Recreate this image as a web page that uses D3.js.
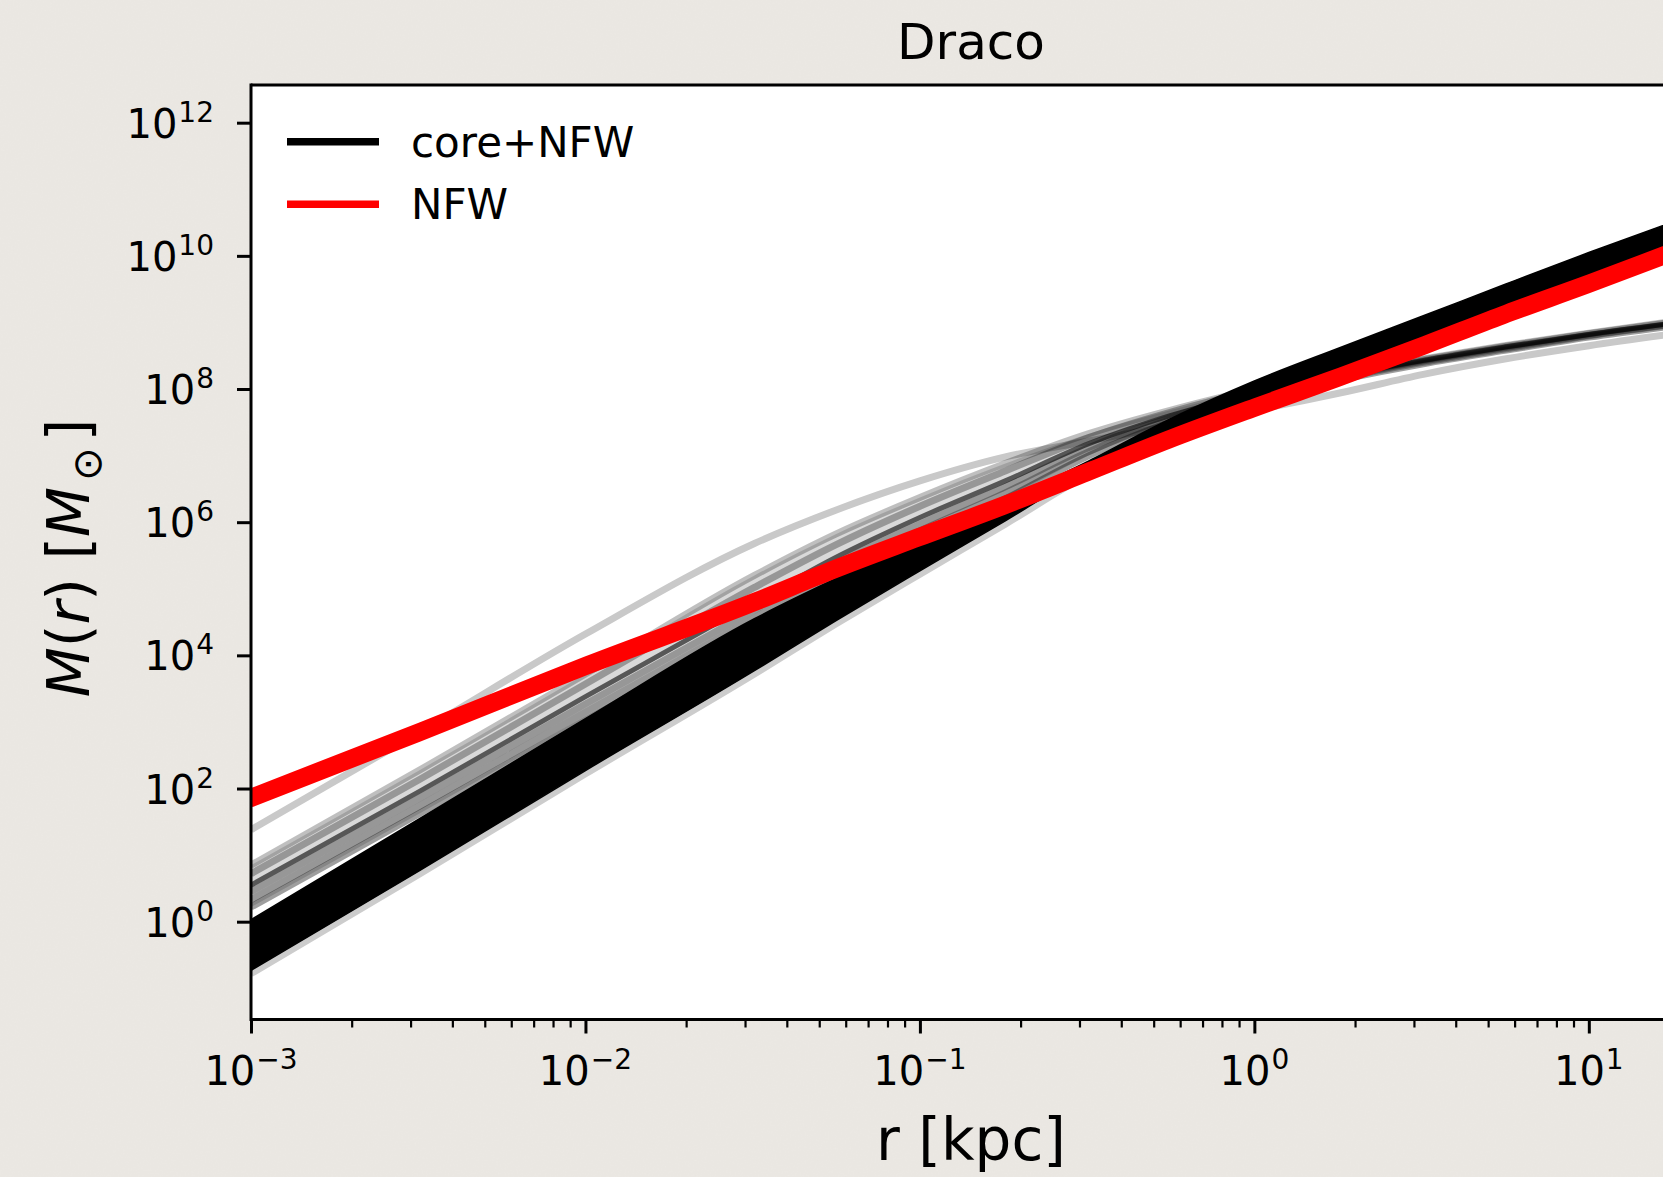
<!DOCTYPE html>
<html><head><meta charset="utf-8">
<script src="https://cdn.jsdelivr.net/npm/d3@7"></script>
<style>
html,body{margin:0;padding:0;background:#ebe8e2;}
svg{display:block;}
text{font-family:"DejaVu Sans",sans-serif;fill:#000;}
</style></head><body>
<svg id="chart" width="1663" height="1177"></svg>
<script>
// ---------- data ----------
const radiusKpc = [0.001, 0.0032, 0.01, 0.032, 0.056, 0.1, 0.18, 0.32, 0.56, 1, 1.8, 3.2, 5.6, 10, 20];

// core+NFW: main (dense) band, log10 M edges
const coreBandUpper  = [0.03, 1.55, 3.05, 4.55, 5.15, 5.72, 6.32, 6.92, 7.55, 8.12, 8.62, 9.10, 9.57, 10.05, 10.60];
const coreBandLower  = [-0.73, 0.77, 2.27, 3.77, 4.52, 5.27, 6.02, 6.77, 7.33, 7.80, 8.28, 8.75, 9.21, 9.67, 10.22];
const coreBandFringe = [-0.78, 0.72, 2.22, 3.72, 4.47, 5.22, 5.97, 6.72, 7.28, 7.75, 8.23, 8.70, 9.16, 9.62, 10.17];

// core+NFW: flattening realisations (grey bundle -> thin dark band)
const coreBundle1 = [0.85, 2.28, 3.72, 5.20, 5.82, 6.37, 6.88, 7.33, 7.68, 7.99, 8.22, 8.45, 8.65, 8.84, 9.05];
const coreBundle2 = [0.72, 2.14, 3.57, 5.02, 5.66, 6.24, 6.77, 7.27, 7.65, 7.97, 8.21, 8.44, 8.64, 8.83, 9.04];
const coreBundle3 = [0.55, 1.96, 3.38, 4.80, 5.47, 6.07, 6.62, 7.18, 7.60, 7.94, 8.19, 8.43, 8.63, 8.82, 9.02];
const coreBundle4 = [0.45, 1.86, 3.27, 4.68, 5.37, 5.97, 6.53, 7.12, 7.57, 7.92, 8.18, 8.42, 8.62, 8.81, 9.01];
const coreBundle5 = [0.33, 1.74, 3.15, 4.56, 5.25, 5.87, 6.44, 7.06, 7.54, 7.89, 8.16, 8.40, 8.60, 8.80, 9.00];
const coreBundle6 = [0.22, 1.63, 3.03, 4.44, 5.13, 5.76, 6.35, 7.00, 7.50, 7.86, 8.14, 8.38, 8.58, 8.78, 8.98];

// core+NFW: single early-turnover realisation (light grey)
const coreOutlier = [1.38, 2.85, 4.32, 5.68, 6.18, 6.62, 6.98, 7.22, 7.45, 7.68, 7.94, 8.22, 8.45, 8.65, 8.86];

// NFW band (red)
const nfwUpper = [1.95, 2.94, 3.93, 4.89, 5.39, 5.87, 6.35, 6.85, 7.34, 7.81, 8.27, 8.74, 9.21, 9.67, 10.24];
const nfwMid   = [1.86, 2.85, 3.84, 4.80, 5.30, 5.78, 6.26, 6.76, 7.25, 7.72, 8.18, 8.65, 9.12, 9.58, 10.15];
const nfwLower = [1.77, 2.76, 3.75, 4.71, 5.21, 5.69, 6.17, 6.67, 7.16, 7.63, 8.09, 8.56, 9.03, 9.49, 10.06];

// ticks / labels
const xMajorExp = [-3, -2, -1, 0, 1];
const yMajorExp = [0, 2, 4, 6, 8, 10, 12];
const legendLabels = ["core+NFW", "NFW"];
const legendColors = ["#000000", "#ff0000"];
const titleText = "Draco";
const xLabelText = "r [kpc]";

// ---------- layout ----------
const L = 251, R = 1689.5, T = 85, B = 1019.5;
const x = d3.scaleLog().domain([1e-3, 20]).range([L, R]);
const y = d3.scaleLog().domain([Math.pow(10, -1.469), Math.pow(10, 12.566)]).range([B, T]);

const svg = d3.select("#chart");

// paper background with subtle texture
const defs = svg.append("defs");
const f = defs.append("filter").attr("id", "paper").attr("x", 0).attr("y", 0).attr("width", "100%").attr("height", "100%");
f.append("feTurbulence").attr("type", "fractalNoise").attr("baseFrequency", 0.6).attr("numOctaves", 3).attr("seed", 4).attr("result", "n");
f.append("feColorMatrix").attr("in", "n").attr("type", "matrix")
  .attr("values", "0 0 0 0 0.5  0 0 0 0 0.48  0 0 0 0 0.45  0 0 0 0.10 0");
f.append("feComposite").attr("in2", "SourceGraphic").attr("operator", "over");
svg.append("rect").attr("width", 1663).attr("height", 1177).attr("fill", "#ece9e4");
svg.append("rect").attr("width", 1663).attr("height", 1177).attr("fill", "#ece9e4").attr("filter", "url(#paper)").attr("opacity", 0.6);

defs.append("clipPath").attr("id", "plotclip").append("rect")
  .attr("x", L).attr("y", T).attr("width", R - L).attr("height", B - T);

svg.append("rect").attr("x", L).attr("y", T).attr("width", R - L).attr("height", B - T).attr("fill", "#ffffff");

const plot = svg.append("g").attr("clip-path", "url(#plotclip)");

const pts = arr => arr.map((v, i) => [x(radiusKpc[i]), y(Math.pow(10, v))]);
const line = d3.line().curve(d3.curveMonotoneX);
const LW = 7;
const bandArea = (lo, hi) => d3.area().curve(d3.curveMonotoneX)
  .x((d, i) => x(radiusKpc[i]))
  .y0((d, i) => y(Math.pow(10, lo[i])))
  .y1((d, i) => y(Math.pow(10, hi[i])))(radiusKpc);

// outlier
plot.append("path").attr("d", line(pts(coreOutlier))).attr("fill", "none")
  .attr("stroke", "#c9c9c9").attr("stroke-width", LW);

// bundle: soft ribbon + individual realisations
plot.append("path").attr("d", bandArea(coreBundle6, coreBundle1))
  .attr("fill", "#000").attr("fill-opacity", 0.15);
const bundle = [coreBundle1, coreBundle2, coreBundle3, coreBundle4, coreBundle5, coreBundle6];
const bundleOpacity = [0.25, 0.3, 0.6, 0.3, 0.3, 0.38];
bundle.forEach((arr, i) => {
  plot.append("path").attr("d", line(pts(arr))).attr("fill", "none")
    .attr("stroke", "#000").attr("stroke-opacity", bundleOpacity[i]).attr("stroke-width", i === 2 ? 5 : LW);
});

// main band
plot.append("path").attr("d", line(pts(coreBandFringe))).attr("fill", "none")
  .attr("stroke", "#000").attr("stroke-opacity", 0.2).attr("stroke-width", LW);
plot.append("path").attr("d", bandArea(coreBandLower, coreBandUpper))
  .attr("fill", "#000").attr("stroke", "#000").attr("stroke-width", 1.5);

// NFW
[nfwUpper, nfwLower, nfwMid].forEach(arr => {
  plot.append("path").attr("d", line(pts(arr))).attr("fill", "none")
    .attr("stroke", "#ff0000").attr("stroke-width", LW);
});

// ---------- axes ----------
const axes = svg.append("g");
axes.append("line").attr("x1", L).attr("x2", L).attr("y1", T - 1.5).attr("y2", B + 1.5).attr("stroke", "#000").attr("stroke-width", 3);
axes.append("line").attr("x1", L).attr("x2", R).attr("y1", B).attr("y2", B).attr("stroke", "#000").attr("stroke-width", 3);
axes.append("line").attr("x1", L).attr("x2", R).attr("y1", T).attr("y2", T).attr("stroke", "#000").attr("stroke-width", 3);
axes.append("line").attr("x1", R).attr("x2", R).attr("y1", T).attr("y2", B).attr("stroke", "#000").attr("stroke-width", 3);

const xMajor = xMajorExp.map(e => Math.pow(10, e));
const xMinor = [];
xMajorExp.forEach(e => { for (let k = 2; k <= 9; k++) { const v = k * Math.pow(10, e); if (v <= 20) xMinor.push(v); } });

const gxMinor = svg.append("g").attr("transform", `translate(0,${B})`)
  .call(d3.axisBottom(x).tickValues(xMinor).tickSize(8).tickFormat(""));
gxMinor.select(".domain").remove();
gxMinor.selectAll(".tick line").attr("stroke-width", 2.2).attr("stroke", "#000");

const gxMajor = svg.append("g").attr("transform", `translate(0,${B})`)
  .call(d3.axisBottom(x).tickValues(xMajor).tickSize(14).tickFormat(""));
gxMajor.select(".domain").remove();
gxMajor.selectAll(".tick line").attr("stroke-width", 3).attr("stroke", "#000");

function powText(sel, e) {
  sel.append("tspan").text("10");
  sel.append("tspan").attr("dx", 1).attr("dy", -16).attr("font-size", 28)
    .text(e < 0 ? "\u2212" + (-e) : String(e));
}
xMajorExp.forEach(e => {
  const t = svg.append("text").attr("x", x(Math.pow(10, e))).attr("y", 1085)
    .attr("font-size", 40).attr("text-anchor", "middle");
  powText(t, e);
});

const yMajor = yMajorExp.map(e => Math.pow(10, e));
const gy = svg.append("g").attr("transform", `translate(${L},0)`)
  .call(d3.axisLeft(y).tickValues(yMajor).tickSize(14).tickFormat(""));
gy.select(".domain").remove();
gy.selectAll(".tick line").attr("stroke-width", 3).attr("stroke", "#000");
yMajorExp.forEach(e => {
  const t = svg.append("text").attr("x", 214).attr("y", y(Math.pow(10, e)) + 15)
    .attr("font-size", 40).attr("text-anchor", "end");
  powText(t, e);
});

// title & labels
svg.append("text").attr("x", 971).attr("y", 59).attr("font-size", 50).attr("text-anchor", "middle").text(titleText);
svg.append("text").attr("x", 971).attr("y", 1160).attr("font-size", 58).attr("text-anchor", "middle").text(xLabelText);

const yl = svg.append("text").attr("transform", "translate(89,558) rotate(-90)")
  .attr("font-size", 58).attr("text-anchor", "middle");
yl.append("tspan").attr("font-style", "italic").text("M");
yl.append("tspan").text("(");
yl.append("tspan").attr("font-style", "italic").text("r");
yl.append("tspan").text(") [");
yl.append("tspan").attr("font-style", "italic").text("M");
yl.append("tspan").attr("dx", 6).attr("dy", 12).attr("font-size", 40).text("\u2299");
yl.append("tspan").attr("dx", 6).attr("dy", -12).text("]");

// legend
legendLabels.forEach((lab, i) => {
  const yy = 141.7 + i * 62.6;
  svg.append("line").attr("x1", 287).attr("x2", 379).attr("y1", yy).attr("y2", yy)
    .attr("stroke", legendColors[i]).attr("stroke-width", 7.5);
  svg.append("text").attr("x", 411).attr("y", yy + 15).attr("font-size", 42).text(lab);
});
</script>
</body></html>
